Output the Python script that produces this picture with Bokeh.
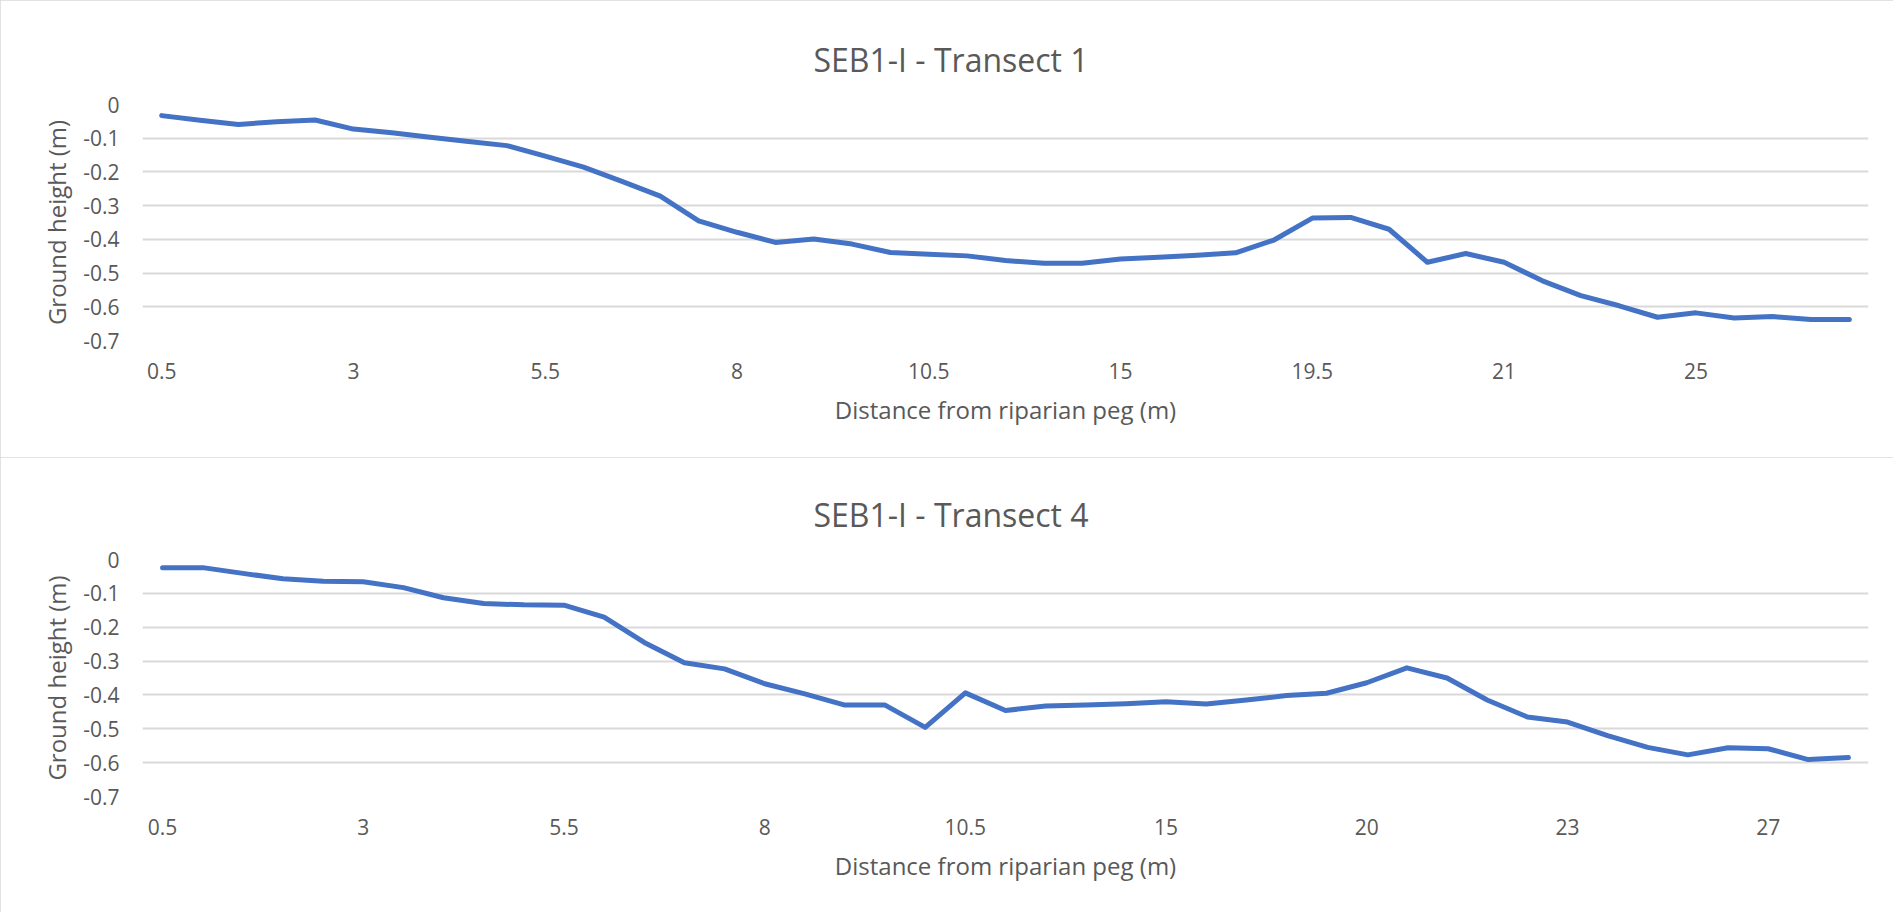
from bokeh.plotting import figure
from bokeh.layouts import column
from bokeh.models import Range1d, FixedTicker, CustomJSTickFormatter
from bokeh.embed import file_html
from bokeh.resources import INLINE

# ---- data ----
titles = ["SEB1-I - Transect 1", "SEB1-I - Transect 4"]
x_title = "Distance from riparian peg (m)"
y_title = "Ground height (m)"

dist_t1 = [0.5, 1, 1.5, 2, 2.5, 3, 3.5, 4, 4.5, 5, 5.5, 6, 6.5, 7, 7.5, 8, 8.5, 9, 9.5, 10, 10.5,
           11.5, 12, 13, 14, 15, 16, 17, 18, 19, 19.5, 19.8, 20, 20.3, 20.5, 21,
           22, 23, 24, 24.5, 25, 26, 27, 28, 29]
height_t1 = [-0.033, -0.047, -0.059, -0.051, -0.046, -0.073, -0.084, -0.097, -0.110, -0.122,
             -0.153, -0.186, -0.228, -0.272, -0.345, -0.379, -0.409, -0.399, -0.414, -0.439,
             -0.444, -0.449, -0.463, -0.471, -0.471, -0.458, -0.453, -0.447, -0.440, -0.402,
             -0.337, -0.335, -0.370, -0.468, -0.442, -0.468, -0.523, -0.567, -0.597, -0.631,
             -0.618, -0.633, -0.629, -0.638, -0.638]

dist_t4 = [0.5, 1, 1.5, 2, 2.5, 3, 3.5, 4, 4.5, 5, 5.5, 6, 6.5, 7, 7.5, 8, 8.5, 9, 9.5, 10, 10.5,
           11, 12, 13, 14, 15, 16, 17, 18, 19, 20, 20.5, 21, 21.5, 22, 23,
           24, 25, 25.5, 26, 27, 28, 29]
height_t4 = [-0.024, -0.024, -0.041, -0.057, -0.064, -0.066, -0.083, -0.113, -0.130, -0.134,
             -0.135, -0.170, -0.245, -0.305, -0.323, -0.367, -0.397, -0.430, -0.430, -0.496,
             -0.394, -0.446, -0.433, -0.430, -0.426, -0.420, -0.427, -0.415, -0.402, -0.395,
             -0.364, -0.320, -0.350, -0.415, -0.465, -0.480, -0.520, -0.555, -0.577, -0.556,
             -0.559, -0.591, -0.585]

y_ticks = [0, -0.1, -0.2, -0.3, -0.4, -0.5, -0.6, -0.7]
label_every = 5

FONT = "Open Sans"
TXT = "#595959"
GRID = "#d9d9d9"
LINE = "#4472C4"

W = 1893
B_LEFT, B_RIGHT = 142, 25


def make_chart(title, dists, heights, h, border_top, border_bottom):
    n = len(dists)
    idx = list(range(n))
    p = figure(width=W, height=h, output_backend="svg", toolbar_location=None,
               title=title,
               x_range=Range1d(-0.5, n - 0.5), y_range=Range1d(y_ticks[-1], y_ticks[0]),
               min_border_left=B_LEFT, min_border_right=B_RIGHT,
               min_border_top=border_top, min_border_bottom=border_bottom)
    p.styles = {"outline": "1px solid #d9d9d9", "outline-offset": "-1px"}
    p.outline_line_color = None
    p.background_fill_color = "white"
    p.border_fill_color = "white"

    # chart title, centred on the whole chart area (Excel style)
    p.title.align = "left"
    p.title.vertical_align = "middle"
    p.title.offset = 671
    p.title.standoff = 46
    p.title.text_font = FONT
    p.title.text_font_size = "32px"
    p.title.text_font_style = "normal"
    p.title.text_color = TXT

    p.line(idx, heights, line_color=LINE, line_width=5, line_join="round", line_cap="round")

    tick_idx = [i for i in idx if i % label_every == 0]
    p.xaxis.ticker = FixedTicker(ticks=tick_idx)
    p.xaxis.major_label_overrides = {i: f"{dists[i]:g}" for i in tick_idx}
    p.yaxis.ticker = FixedTicker(ticks=y_ticks)
    p.yaxis.formatter = CustomJSTickFormatter(
        code="return Math.abs(tick) < 1e-9 ? '0' : tick.toFixed(1);")

    for ax in (p.xaxis[0], p.yaxis[0]):
        ax.axis_line_color = None
        ax.major_tick_line_color = None
        ax.minor_tick_line_color = None
        ax.major_label_text_font = FONT
        ax.major_label_text_font_size = "21px"
        ax.major_label_text_color = TXT
        ax.axis_label_text_font = FONT
        ax.axis_label_text_font_size = "24px"
        ax.axis_label_text_font_style = "normal"
        ax.axis_label_text_color = TXT
    p.xaxis.axis_label = x_title
    p.yaxis.axis_label = y_title
    p.xaxis.major_label_standoff = 16
    p.xaxis.axis_label_standoff = 11
    p.yaxis.major_label_standoff = 17
    p.yaxis.axis_label_standoff = 7

    p.xgrid.grid_line_color = None
    p.ygrid.grid_line_color = GRID
    p.ygrid.grid_line_width = 1.8
    return p


p1 = make_chart(titles[0], dist_t1, height_t1, 457, 104, 117)
p2 = make_chart(titles[1], dist_t4, height_t4, 455, 102, 116)
layout = column(p1, p2, spacing=0)

open("out.html", "w").write(file_html(layout, INLINE))
